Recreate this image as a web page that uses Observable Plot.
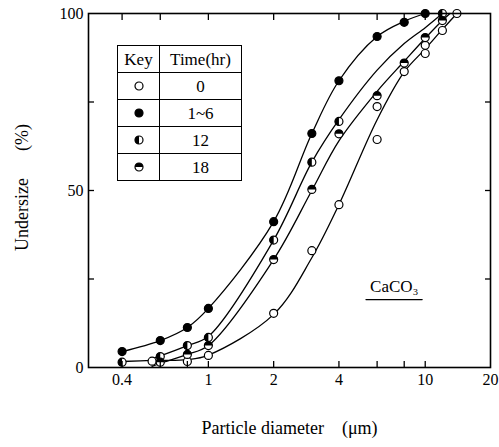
<!DOCTYPE html>
<html><head><meta charset="utf-8">
<script src="https://cdn.jsdelivr.net/npm/d3@7"></script>
<script src="https://cdn.jsdelivr.net/npm/@observablehq/plot@0.6"></script>
<style>
body{margin:0;background:#fff;}
#wrap{position:relative;width:499px;height:447px;font-family:"Liberation Serif","DejaVu Serif",serif;}
#wrap svg, #wrap svg text{font-family:"Liberation Serif","DejaVu Serif",serif !important;}
#key{position:absolute;left:117px;top:45px;border-collapse:collapse;font-size:17px;background:#fff;}
#key td{border:1.3px solid #000;height:26px;padding:0;text-align:center;vertical-align:middle;line-height:1;}
#key td.k{width:41px;}
#key td.t{width:81px;}
#key svg{display:block;margin:auto;}
</style>
</head><body><div id="wrap"></div>
<script>
// ---- data ----
const seriesNames = ["0", "1~6", "12", "18"];

// measured points (particle diameter µm, undersize %)
const d0  = [0.55, 0.8, 1, 2, 3, 4, 6, 6, 8, 10, 10, 12, 14];
const u0  = [1.8, 1.7, 3.4, 15.3, 33, 46, 73.7, 64.4, 83.6, 91, 88.7, 95.2, 100];
const d16 = [0.4, 0.6, 0.8, 1, 2, 3, 4, 6, 8, 10];
const u16 = [4.5, 7.6, 11.3, 16.7, 41.2, 66.1, 81, 93.5, 97.5, 100];
const d12 = [0.4, 0.6, 0.8, 1, 2, 3, 4, 12];
const u12 = [1.5, 3.1, 6.2, 8.5, 36, 58, 69.5, 100];
const d18 = [0.6, 0.8, 1, 2, 3, 4, 6, 8, 10, 12];
const u18 = [1.5, 3.7, 6.2, 30.5, 50.3, 66, 76.8, 86, 93.2, 98];

// smooth hand-drawn curves
const cd0  = [0.4, 0.55, 0.8, 1, 2, 3, 4, 6, 8, 10, 12, 14];
const cu0  = [1.7, 2, 2.2, 3.5, 15, 31, 46, 70, 83.5, 90, 95.5, 100];
const cd16 = [0.4, 0.6, 0.8, 1, 2, 3, 4, 6, 8, 10];
const cu16 = [4.5, 7.6, 11.3, 16.7, 41.2, 66.1, 81, 93.5, 97.8, 100];
const cd12 = [0.55, 0.6, 0.8, 1, 2, 3, 4, 6, 8, 10, 12];
const cu12 = [2.5, 3.3, 6.2, 8.8, 36, 58, 70, 84, 91.5, 96, 100];
const cd18 = [0.55, 0.6, 0.8, 1, 2, 3, 4, 6, 8, 10, 12, 13];
const cu18 = [0.3, 1.2, 3.7, 6.2, 30.5, 50, 64, 78, 86.5, 93, 98, 100];

// axes
const xTickLabels = [0.4, 0.6, 1, 2, 4, 6, 10, 20];
const xTicksBottom = [0.4, 0.6, 0.8, 1, 2, 4, 6, 8, 10];
const xTicksTop = [0.4, 0.6, 1, 2, 4, 6, 8, 10];
const yTickLabels = [0, 50, 100];
const yTicksInner = [25, 50, 75];
const xDomain = [0.28, 20];
const yDomain = [0, 100];
const xTitle = "Particle diameter\u2003(\u03bcm)";
const yTitle = "Undersize\u2003\u2002(%)";
const annotText = ["CaCO\u2083"];
const annotX = [7.2];
const annotY = [23];
const underlineX = [5.33, 9.68];
const underlineY = [19.2, 19.2];

// ---- build rows ----
const zipRows = (s, ds, us) => ds.map((d, i) => ({series: s, d, u: us[i]}));
const pointRows = [
  ...zipRows("0", d0, u0), ...zipRows("1~6", d16, u16),
  ...zipRows("12", d12, u12), ...zipRows("18", d18, u18)
];
const curveRows = [
  ...zipRows("0", cd0, cu0), ...zipRows("1~6", cd16, cu16),
  ...zipRows("12", cd12, cu12), ...zipRows("18", cd18, cu18)
];
const halfLeft = {draw(ctx, size) {const r = Math.sqrt(size / Math.PI); ctx.moveTo(0, -r); ctx.arc(0, 0, r, -Math.PI / 2, Math.PI / 2, true); ctx.closePath();}};
const halfTop = {draw(ctx, size) {const r = Math.sqrt(size / Math.PI); ctx.moveTo(-r, 0); ctx.arc(0, 0, r, Math.PI, 2 * Math.PI, false); ctx.closePath();}};
const none = () => "";
const serif = '"Liberation Serif", "DejaVu Serif", serif';

const chart = Plot.plot({
  width: 499, height: 447,
  marginLeft: 88, marginRight: 9, marginTop: 13, marginBottom: 80,
  style: {fontFamily: serif, fontSize: "16px", background: "#fff", color: "#000"},
  x: {type: "log", domain: xDomain, label: null},
  y: {domain: yDomain, label: null},
  marks: [
    Plot.line(curveRows, {x: "d", y: "u", z: "series", curve: "catmull-rom", stroke: "#000", strokeWidth: 1.3}),
    Plot.dot(pointRows, {x: "d", y: "u", r: 4, fill: d => d.series === "1~6" ? "#000" : "#fff", stroke: "#000", strokeWidth: 1.2}),
    Plot.dot(pointRows.filter(d => d.series === "12"), {x: "d", y: "u", r: 4, symbol: halfLeft, fill: "#000"}),
    Plot.dot(pointRows.filter(d => d.series === "18"), {x: "d", y: "u", r: 4, symbol: halfTop, fill: "#000"}),
    Plot.frame({stroke: "#000", strokeWidth: 1.6}),
    Plot.axisX({anchor: "bottom", ticks: xTicksBottom, tickSize: -6, tickFormat: none, strokeWidth: 1.3}),
    Plot.axisX({anchor: "top", ticks: xTicksTop, tickSize: -6, tickFormat: none, strokeWidth: 1.3}),
    Plot.axisX({anchor: "bottom", ticks: xTickLabels, tickSize: 0, tickPadding: 6, tickFormat: d => String(d), fontFamily: serif, fontSize: 16}),
    Plot.axisY({anchor: "left", ticks: yTicksInner, tickSize: -6, tickFormat: none, strokeWidth: 1.3}),
    Plot.axisY({anchor: "right", ticks: yTicksInner, tickSize: -6, tickFormat: none, strokeWidth: 1.3}),
    Plot.axisY({anchor: "left", ticks: yTickLabels, tickSize: 0, tickPadding: 5, tickFormat: d => String(d), fontFamily: serif, fontSize: 16}),
    Plot.text([xTitle], {frameAnchor: "bottom", dy: 66, fontSize: 18, fontFamily: serif, textAnchor: "middle", text: d => d}),
    Plot.text([yTitle], {frameAnchor: "left", dx: -66, dy: -3, rotate: -90, fontSize: 18, fontFamily: serif, textAnchor: "middle", text: d => d}),
    Plot.text(annotText, {x: annotX, y: annotY, text: d => d, fontSize: 17, fontFamily: serif}),
    Plot.line(underlineX.map((x, i) => ({x, y: underlineY[i]})), {x: "x", y: "y", stroke: "#000", strokeWidth: 1.2})
  ]
});
const wrap = document.getElementById("wrap");
wrap.appendChild(chart);

// key table (legend) drawn over the plot
const symSvg = (s) => {
  const r = 4;
  let inner = `<circle cx="6" cy="6" r="${r}" fill="${s === "1~6" ? "#000" : "#fff"}" stroke="#000" stroke-width="1.2"/>`;
  if (s === "12") inner += `<path d="M6,${6 - r}A${r},${r} 0 0 0 6,${6 + r}Z" fill="#000"/>`;
  if (s === "18") inner += `<path d="M${6 - r},6A${r},${r} 0 0 1 ${6 + r},6Z" fill="#000"/>`;
  return `<svg width="12" height="12">${inner}</svg>`;
};
const tbl = document.createElement("table");
tbl.id = "key";
tbl.innerHTML = `<tr><td class="k">Key</td><td class="t">Time(hr)</td></tr>` +
  seriesNames.map(s => `<tr><td class="k">${symSvg(s)}</td><td class="t">${s}</td></tr>`).join("");
wrap.appendChild(tbl);
</script>
</body></html>
